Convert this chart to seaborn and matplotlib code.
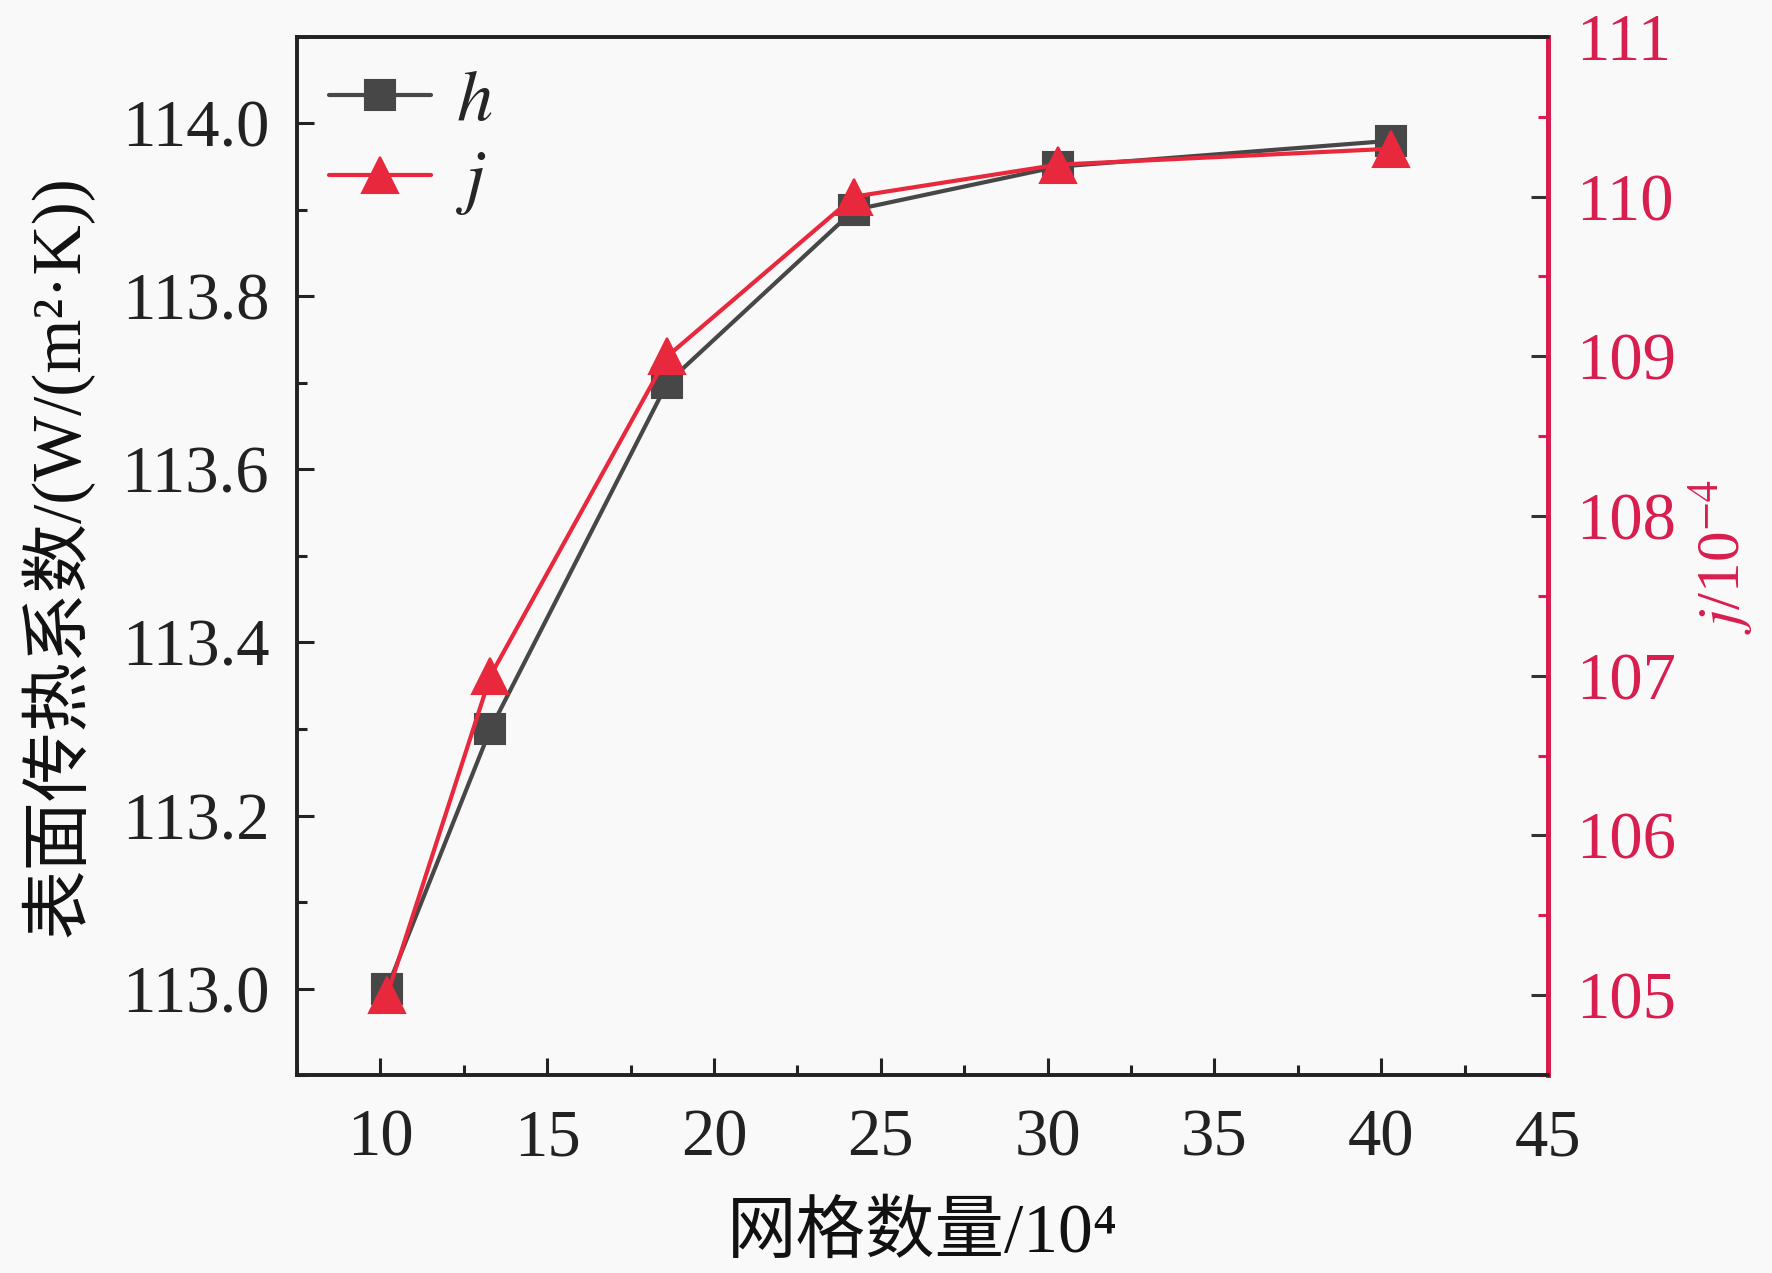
import numpy as np
import pandas as pd
import matplotlib
matplotlib.use("Agg")
import matplotlib.pyplot as plt
import seaborn as sns
from matplotlib.ticker import MultipleLocator, FormatStrFormatter

# data
grid_counts = [10.2, 13.3, 18.6, 24.2, 30.3, 40.3]
h_values = [113.0, 113.3, 113.7, 113.9, 113.95, 113.98]
j_values = [105.0, 107.0, 109.0, 110.0, 110.2, 110.3]

x_label = "网格数量/10⁴"
h_label = "表面传热系数/(W/(m²·K))"
j_label = "$j$/10$^{-4}$"

h_color = "#474747"
j_color = "#e8283c"
axis_red = "#d81e4f"
bg = "#f9f9f9"

sns.set_theme(style="ticks")
plt.rcParams["font.family"] = ["Liberation Serif", "Noto Sans CJK SC"]
plt.rcParams["mathtext.fontset"] = "stix"

df = pd.DataFrame({"grid": grid_counts, "h": h_values, "j": j_values})

fig = plt.figure(figsize=(8.86, 6.365), dpi=200, facecolor=bg)
ax = fig.add_axes([0.1676, 0.1555, 0.706, 0.8155])
ax.set_facecolor(bg)
ax2 = ax.twinx()

sns.lineplot(data=df, x="grid", y="h", ax=ax, color=h_color, marker="s",
             markersize=11, linewidth=1.5, markeredgecolor=h_color, label="h",
             legend=False)
sns.lineplot(data=df, x="grid", y="j", ax=ax2, color=j_color, marker="^",
             markersize=13, linewidth=1.5, markeredgecolor=j_color, label="j",
             legend=False)

ax.set_xlim(7.5, 45)
ax.set_ylim(112.9, 114.1)
ax2.set_ylim(104.5, 111)

ax.xaxis.set_major_locator(MultipleLocator(5))
ax.xaxis.set_minor_locator(MultipleLocator(2.5))
ax.yaxis.set_major_locator(MultipleLocator(0.2))
ax.yaxis.set_minor_locator(MultipleLocator(0.1))
ax2.yaxis.set_major_locator(MultipleLocator(1))
ax2.yaxis.set_minor_locator(MultipleLocator(0.5))
ax.yaxis.set_major_formatter(FormatStrFormatter("%.1f"))

for a in (ax, ax2):
    for s in a.spines.values():
        s.set_linewidth(1.3)
        s.set_color("#222222")
ax2.spines["right"].set_color(axis_red)
ax2.spines["right"].set_linewidth(1.8)

ax.tick_params(axis="both", which="major", direction="in", length=6, width=1.1,
               labelsize=24, colors="#222222", pad=10)
ax.tick_params(axis="both", which="minor", direction="in", length=3.5, width=1.1,
               colors="#222222")
ax.tick_params(axis="x", pad=12)
ax.tick_params(top=False, which="both")
ax2.tick_params(axis="y", which="major", direction="in", length=6, width=1.1,
                labelsize=24, labelcolor=axis_red, color="#333333", pad=10)
ax2.tick_params(axis="y", which="minor", direction="in", length=3.5, width=1.1,
                color=axis_red)

ax.set_xlabel(x_label, fontsize=25, labelpad=12, color="#111111")
ax.set_ylabel(h_label, fontsize=25, labelpad=10, color="#111111")
ax2.set_ylabel(j_label, fontsize=22, labelpad=4, color=axis_red)

# legend in the upper-left corner, italic symbols
handles = ax.get_lines()[:1] + ax2.get_lines()[:1]
leg = ax.legend(handles, ["$h$", "$j$"], loc="upper left", frameon=False,
                fontsize=26, handlelength=1.4, handletextpad=0.35,
                labelspacing=0.2, borderaxespad=0.1, borderpad=0.35)

fig.savefig("out.png", dpi=200, facecolor=bg)
